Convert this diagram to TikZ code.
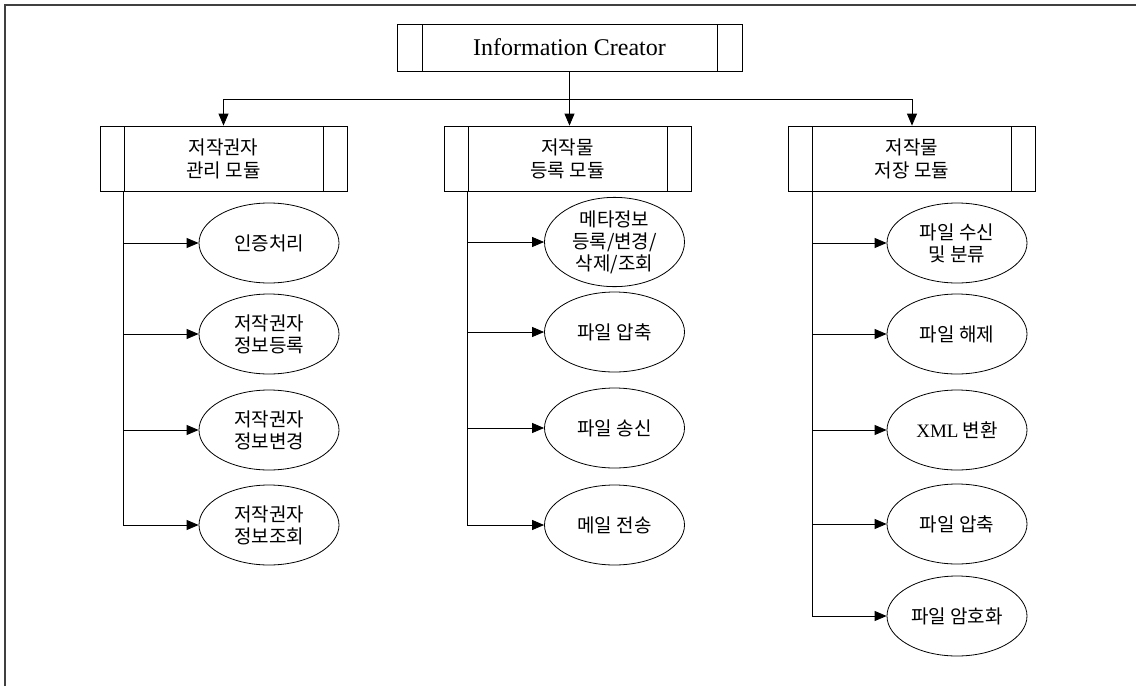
\documentclass[tikz,border=0pt]{standalone}
\usepackage{fontspec}
\setmainfont{Liberation Serif}
\newfontfamily\kr{Noto Sans CJK KR}
\usetikzlibrary{arrows.meta,shapes.geometric}
\begin{document}
\begin{tikzpicture}[x=1pt,y=-1pt,
  line width=0.8pt,
  frame/.style={line width=1.3pt, draw=black!75},
  conn/.style={-{Triangle[length=12pt,width=10pt]}},
  topbox/.style={draw, minimum width=345pt, minimum height=47pt, inner sep=0pt,
    font=\fontsize{24}{28}\selectfont,
    path picture={
      \draw ([xshift=25pt]path picture bounding box.north west) -- ([xshift=25pt]path picture bounding box.south west);
      \draw ([xshift=-25pt]path picture bounding box.north east) -- ([xshift=-25pt]path picture bounding box.south east);}},
  modbox/.style={draw, minimum width=247pt, minimum height=65pt, inner sep=0pt, align=center,
    font={\kr\fontsize{19}{23}\selectfont},
    path picture={
      \draw ([xshift=24pt]path picture bounding box.north west) -- ([xshift=24pt]path picture bounding box.south west);
      \draw ([xshift=-24pt]path picture bounding box.north east) -- ([xshift=-24pt]path picture bounding box.south east);}},
  leaf/.style={draw, ellipse, minimum width=140pt, minimum height=80pt, inner sep=0pt, align=center,
    font={\kr\fontsize{19}{22}\selectfont}}
]
\useasboundingbox (0,0) rectangle (1136,686);
% frame (top and left edges only)
\draw[frame] (5,686) -- (5,5) -- (1136,5);

% top and module boxes
\node[topbox] (top) at (569.5,47.5) {Information Creator};
\node[modbox] (m1) at (223.5,158.5) {저작권자\\관리 모듈};
\node[modbox] (m2) at (567.5,158.5) {저작물\\등록 모듈};
\node[modbox] (m3) at (912,158.5) {저작물\\저장 모듈};

\coordinate (busL) at (223.5,99);
\coordinate (busR) at (912,99);
\draw (top.south) -- (top.south |- busL);
\draw (busL) -- (busR);
\draw[conn] (busL) -- (m1.north);
\draw[conn] (top.south |- busL) -- (top.south |- m2.north);
\draw[conn] (busR) -- (m3.north);

% leaves, left column
\node[leaf] (a1) at (269,243) {인증처리};
\node[leaf] (a2) at (269,334) {저작권자\\정보등록};
\node[leaf] (a3) at (269,430) {저작권자\\정보변경};
\node[leaf] (a4) at (269,525) {저작권자\\정보조회};
% middle column
\node[leaf] (b1) at (614.5,242) {메타정보\\등록/변경/\\삭제/조회};
\node[leaf] (b2) at (614.5,332) {파일 압축};
\node[leaf] (b3) at (614.5,428) {파일 송신};
\node[leaf] (b4) at (614.5,525) {메일 전송};
% right column
\node[leaf] (c1) at (957,243) {파일 수신\\및 분류};
\node[leaf] (c2) at (957,334) {파일 해제};
\node[leaf] (c3) at (957,430) {{\rmfamily XML} 변환};
\node[leaf] (c4) at (957,524) {파일 압축};
\node[leaf] (c5) at (957,616) {파일 암호화};

% trunks
\coordinate (t1) at ([xshift=24pt]m1.south west);
\coordinate (t2) at ([xshift=24pt]m2.south west);
\coordinate (t3) at ([xshift=24pt]m3.south west);

\draw[conn] (t1) |- (a4.west);
\foreach \n in {a1,a2,a3} \draw[conn] (t1 |- \n.west) -- (\n.west);
\draw[conn] (t2) |- (b4.west);
\foreach \n in {b1,b2,b3} \draw[conn] (t2 |- \n.west) -- (\n.west);
\draw[conn] (t3) |- (c5.west);
\foreach \n in {c1,c2,c3,c4} \draw[conn] (t3 |- \n.west) -- (\n.west);
\end{tikzpicture}
\end{document}
